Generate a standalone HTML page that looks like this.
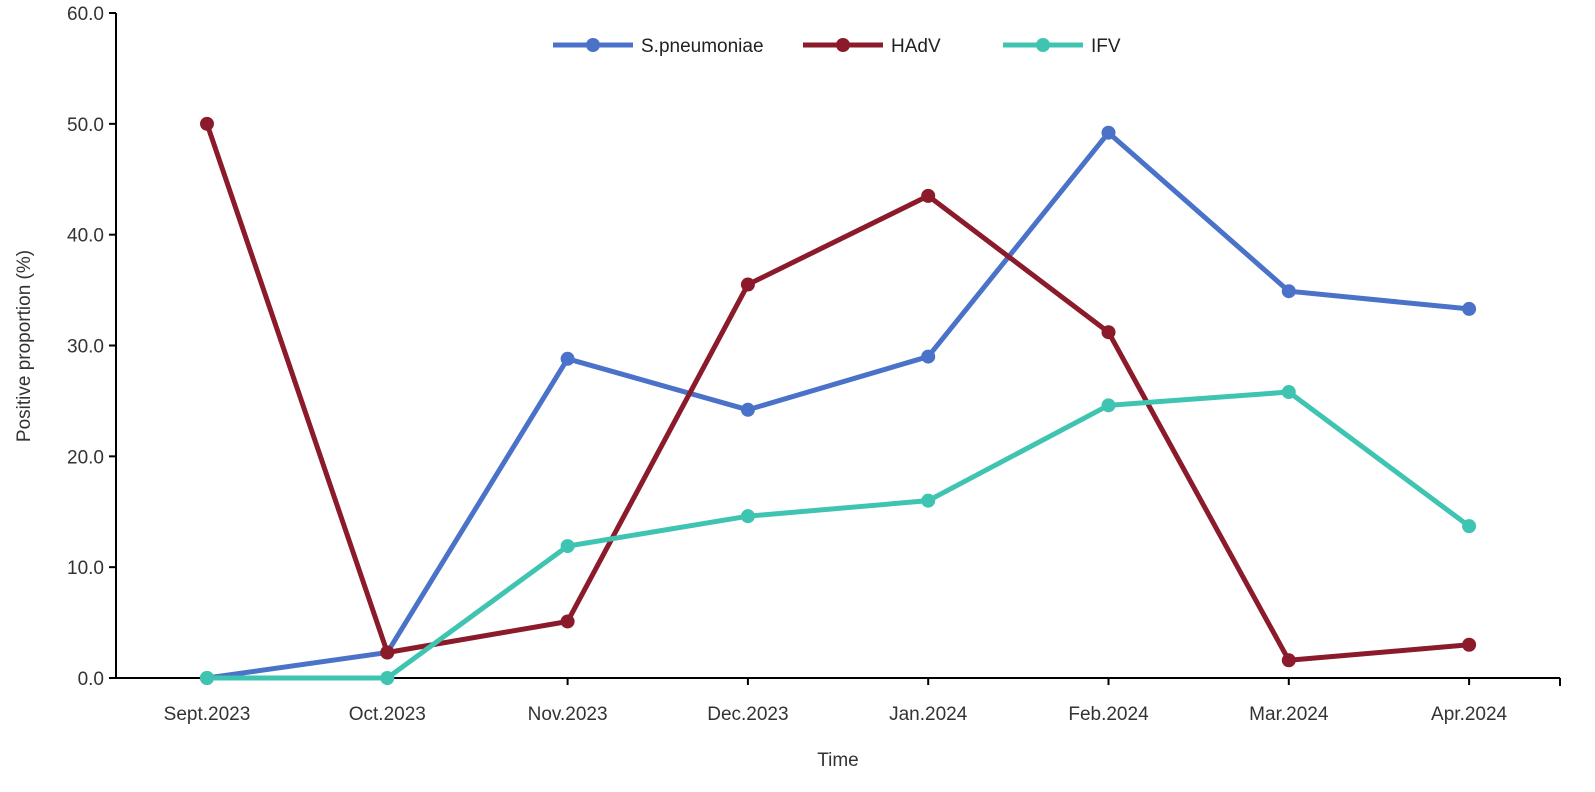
<!DOCTYPE html>
<html><head><meta charset="utf-8"><style>
body{margin:0;background:#fff}
svg{display:block;font-family:"Liberation Sans",sans-serif}
</style></head><body>
<svg id="chart" width="1595" height="792"></svg>
<script>
const categories=["Sept.2023","Oct.2023","Nov.2023","Dec.2023","Jan.2024","Feb.2024","Mar.2024","Apr.2024"];
const sPneumoniae=[0,2.3,28.8,24.2,29.0,49.2,34.9,33.3];
const hadv=[50.0,2.3,5.1,35.5,43.5,31.2,1.6,3.0];
const ifv=[0,0,11.9,14.6,16.0,24.6,25.8,13.7];
const yTicks=[0,10,20,30,40,50,60];
const seriesNames=["S.pneumoniae","HAdV","IFV"];
const NS="http://www.w3.org/2000/svg";
const svg=document.getElementById('chart');
const x0=116,x1=1560,y0=678,y1=13;
const xs=i=>207+i*180.3;
const ys=v=>y0-(v/60)*(y0-y1);
function mk(t,a,p){const e=document.createElementNS(NS,t);for(const k in a)e.setAttribute(k,a[k]);(p||svg).appendChild(e);return e;}
let ax=mk('line',{x1:x0,y1:y1,x2:x0,y2:y0,stroke:'#000','stroke-width':2});


let bx=mk('line',{x1:x0,y1:y0,x2:x1,y2:y0,stroke:'#000','stroke-width':2});


mk('line',{x1:x1,y1:y0,x2:x1,y2:y0+8,stroke:'#000','stroke-width':2});
yTicks.forEach(v=>{
 mk('line',{x1:x0-7,y1:ys(v),x2:x0,y2:ys(v),stroke:'#000','stroke-width':2});
 const t=mk('text',{x:x0-12,y:ys(v)+7,'text-anchor':'end','font-size':19,fill:'#333'});
 t.textContent=v.toFixed(1);
 
 
});
categories.forEach((c,i)=>{
 mk('line',{x1:xs(i),y1:y0,x2:xs(i),y2:y0+7,stroke:'#000','stroke-width':2});
 const t=mk('text',{x:xs(i),y:720,'text-anchor':'middle','font-size':19,fill:'#333'});
 t.textContent=c;
 
 
});
let xt=mk('text',{x:838,y:766,'text-anchor':'middle','font-size':19,fill:'#333'});xt.textContent='Time';


let yt=mk('text',{x:0,y:0,'text-anchor':'middle','font-size':19,fill:'#333',transform:'translate(30,346) rotate(-90)'});yt.textContent='Positive proportion (%)';


const colors=["#4a72c8","#8b1a2a","#3fc4b2"];
[sPneumoniae,hadv,ifv].forEach((d,s)=>{
 const g=mk('g',{});
 
 
 mk('polyline',{points:d.map((v,i)=>xs(i)+','+ys(v)).join(' '),fill:'none',stroke:colors[s],'stroke-width':5,'stroke-linejoin':'round'},g);
 d.forEach((v,i)=>{const c=mk('circle',{cx:xs(i),cy:ys(v),r:7,fill:colors[s]},g);
  
  });
});
const lx=[553,803,1003];
seriesNames.forEach((n,s)=>{
 const g=mk('g',{});
 
 
 mk('line',{x1:lx[s],y1:45,x2:lx[s]+80,y2:45,stroke:colors[s],'stroke-width':5},g);
 mk('circle',{cx:lx[s]+40,cy:45,r:7,fill:colors[s]},g);
 const t=mk('text',{x:lx[s]+88,y:52,'font-size':19,fill:'#222'},g);t.textContent=n;
});
</script>
</body></html>
